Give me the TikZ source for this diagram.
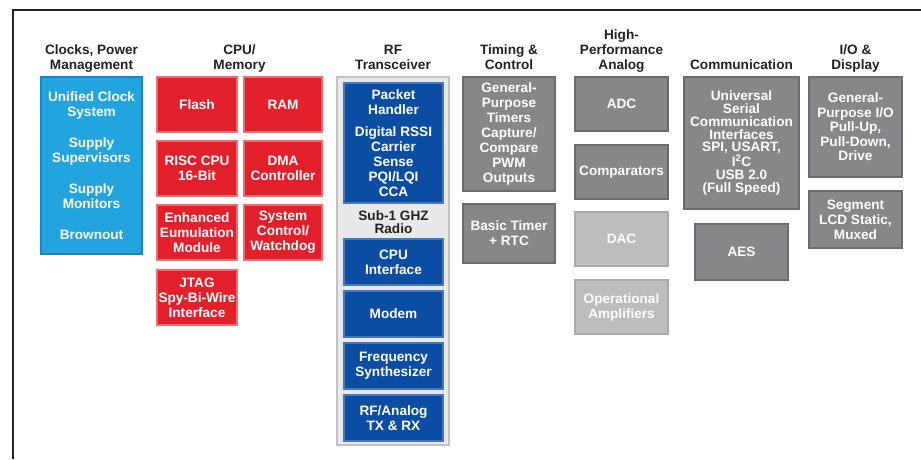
\documentclass[tikz,border=0pt]{standalone}
\usepackage{fontspec}
\setmainfont{Liberation Sans}
\usepackage{tikz}
\usetikzlibrary{positioning}
\usepackage{xcolor}
\definecolor{clkblue}{HTML}{22A5DF}
\definecolor{clkedge}{HTML}{1A86C6}
\definecolor{cpured}{HTML}{E41F2C}
\definecolor{cpuedge}{HTML}{F06A72}
\definecolor{rfblue}{HTML}{0B4DA2}
\definecolor{rfedge}{HTML}{4676BC}
\definecolor{rfback}{HTML}{E9E9EA}
\definecolor{rfbackedge}{HTML}{C2C2C4}
\definecolor{periph}{HTML}{87878A}
\definecolor{periphedge}{HTML}{6C6C6E}
\definecolor{analight}{HTML}{BDBDBF}
\definecolor{analightedge}{HTML}{A9A9AB}
\definecolor{hdrgray}{HTML}{222222}

\begin{document}
\begin{tikzpicture}[
  x=1pt, y=-1pt,
  node distance=9pt,
  blk/.style={draw, line width=1.6pt, align=center, inner sep=0pt, outer sep=0pt, text=white,
    font=\fontsize{13.6}{15}\selectfont\bfseries},
  hdr/.style={anchor=south, inner sep=0pt, text depth=3pt, align=center, text=hdrgray,
    font=\fontsize{13.6}{15}\selectfont\bfseries},
  clk/.style={blk, fill=clkblue, draw=clkedge},
  cpu/.style={blk, fill=cpured, draw=cpuedge, minimum width=80pt, minimum height=55pt},
  rf/.style={blk, fill=rfblue, draw=rfedge, minimum width=99pt, minimum height=46pt},
  dig/.style={blk, fill=periph, draw=periphedge, minimum width=93pt},
  ana/.style={blk, fill=analight, draw=analightedge, minimum width=93pt, minimum height=54pt}
]
\useasboundingbox (0,0) rectangle (921,459);
\draw[line width=2pt, color=hdrgray] (13,459) -- (13,9.5) -- (921,9.5);

% column headers
\node[hdr] (hclk) at (91.5,73) {Clocks, Power\\Management};
\node[hdr] (hcpu) at (239.5,73) {CPU/\\Memory};
\node[hdr] (hrf) at (393,73) {RF\\Transceiver};
\node[hdr] (htim) at (509,73) {Timing \&\\Control};
\node[hdr] (hana) at (621.5,73) {High-\\Performance\\Analog};
\node[hdr] (hcom) at (741.5,73) {Communication};
\node[hdr] (hio) at (855.5,73) {I/O \&\\Display};

% clocks, power
\node[clk, minimum width=101pt, minimum height=177pt] (ucs) at (91.5,165.5)
  {Unified Clock\\System\\[16pt]Supply\\Supervisors\\[16pt]Supply\\Monitors\\[16pt]Brownout};

% cpu / memory
\node[cpu] (flash) at (197,104.5) {Flash};
\node[cpu, minimum width=78pt, right=7pt of flash] (ram) {RAM};
\node[cpu, below=of flash] (risc) {RISC CPU\\16-Bit};
\node[cpu, minimum width=78pt, below=of ram] (dma) {DMA\\Controller};
\node[cpu, below=of risc] (eem) {Enhanced\\Eumulation\\Module};
\node[cpu, minimum width=78pt, below=of dma] (wdog) {System\\Control/\\Watchdog};
\node[cpu, below=10pt of eem] (jtag) {JTAG\\Spy-Bi-Wire\\Interface};

% rf transceiver
\node[draw=rfbackedge, fill=rfback, line width=1.6pt, minimum width=112pt, minimum height=368pt] (rfcore) at (393,261) {};
\node[rf, minimum height=120pt] (pkt) at (393.5,143)
  {Packet\\Handler\\[7pt]Digital RSSI\\Carrier\\Sense\\PQI/LQI\\CCA};
\node[align=center, inner sep=0pt, text=hdrgray, font=\fontsize{13.6}{12.5}\selectfont\bfseries] (radio) at (393.5,222) {Sub-1 GHZ\\Radio};
\node[rf] (cpuif) at (393.5,262) {CPU\\Interface};
\node[rf, below=6pt of cpuif] (modem) {Modem};
\node[rf, below=6pt of modem] (synth) {Frequency\\Synthesizer};
\node[rf, below=6pt of synth] (txrx) {RF/Analog\\TX \& RX};

% timing & control
\node[dig, minimum width=92pt, minimum height=114pt] (gpt) at (509,134)
  {General-\\Purpose\\Timers\\Capture/\\Compare\\PWM\\Outputs};
\node[dig, minimum width=92pt, minimum height=59pt, below=13pt of gpt] (btim) {Basic Timer\\+ RTC};

% high-performance analog
\node[dig, minimum height=54pt] (adc) at (621.5,104) {ADC};
\node[dig, minimum height=54pt, below=14pt of adc] (comp) {Comparators};
\node[ana, below=13pt of comp] (dac) {DAC};
\node[ana, below=14pt of dac] (opamp) {Operational\\Amplifiers};

% communication
\node[dig, minimum width=115pt, minimum height=132pt, font=\fontsize{13.6}{12.8}\selectfont\bfseries] (usci) at (741.5,143)
  {Universal\\Serial\\Communication\\Interfaces\\SPI, USART,\\I\textsuperscript{2}C\\USB 2.0\\(Full Speed)};
\node[dig, minimum height=56pt, below=15pt of usci] (aes) {AES};

% i/o & display
\node[dig, minimum height=100pt, font=\fontsize{13.6}{14.5}\selectfont\bfseries] (gpio) at (855.5,127)
  {General-\\Purpose I/O\\Pull-Up,\\Pull-Down,\\Drive};
\node[dig, minimum height=57pt, below=14pt of gpio] (lcd) {Segment\\LCD Static,\\Muxed};
\end{tikzpicture}
\end{document}
